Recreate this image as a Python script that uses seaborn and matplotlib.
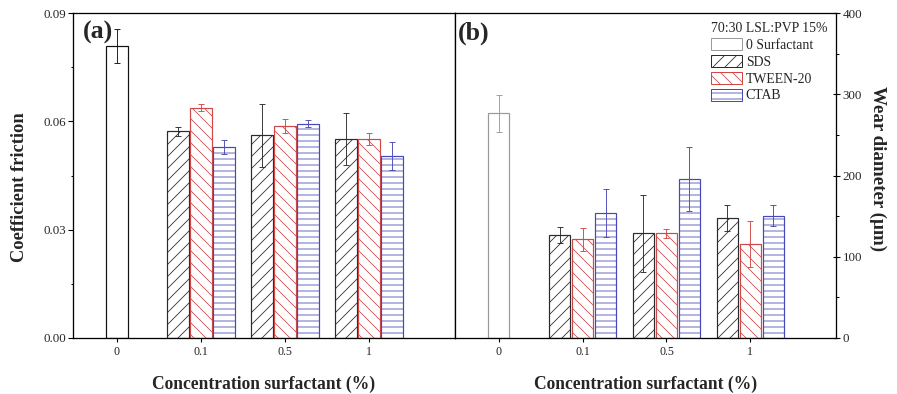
import numpy as np
import pandas as pd
import seaborn as sns
import matplotlib.pyplot as plt
from matplotlib.patches import Patch
from matplotlib.ticker import MultipleLocator, FormatStrFormatter

# categories
conc_labels = ['0', '0.1', '0.5', '1']
surfactants = ['SDS', 'TWEEN-20', 'CTAB']

# (a) coefficient of friction (mean, error)
cof_base, cof_base_err = 0.0809, 0.0048
cof_sds = [0.0572, 0.0561, 0.0551]
cof_sds_err = [0.0012, 0.0087, 0.0072]
cof_tween = [0.0638, 0.0587, 0.0551]
cof_tween_err = [0.0010, 0.0019, 0.0016]
cof_ctab = [0.0529, 0.0593, 0.0504]
cof_ctab_err = [0.0020, 0.0010, 0.0040]

# (b) wear diameter in um (mean, error)
wsd_base, wsd_base_err = 276.5, 23
wsd_sds = [126.8, 128.8, 148.0]
wsd_sds_err = [10, 47.6, 15.8]
wsd_tween = [121.5, 128.8, 115.7]
wsd_tween_err = [14, 5.3, 27.7]
wsd_ctab = [153.8, 195.7, 150.5]
wsd_ctab_err = [29, 39, 13]

cof_ticks = [0.00, 0.03, 0.06, 0.09]
wsd_ticks = [0, 100, 200, 300, 400]

surf_colors = ['#2b2b2b', '#d04848', '#4848b8']
surf_hatches = ['//', '\\\\', '--']
bar_w = 0.257
slot_w = 0.274

sns.set_style('ticks')
plt.rcParams['font.family'] = ['Liberation Serif', 'DejaVu Serif']
plt.rcParams['hatch.linewidth'] = 0.8
plt.rcParams['axes.linewidth'] = 1.3


def panel(ax, base, base_err, vals, errs, base_edge):
    df0 = pd.DataFrame({'conc': [conc_labels[0]], 'value': [base]})
    df = pd.DataFrame({
        'conc': conc_labels[1:] * len(surfactants),
        'surf': np.repeat(surfactants, len(conc_labels) - 1),
        'value': np.concatenate(vals),
    })
    sns.barplot(data=df0, x='conc', y='value', order=conc_labels, color='white',
                width=bar_w, errorbar=None, linewidth=1.2, ax=ax)
    sns.barplot(data=df, x='conc', y='value', hue='surf', order=conc_labels,
                hue_order=surfactants, palette={s: 'white' for s in surfactants},
                width=slot_w * len(surfactants), gap=0.06, errorbar=None,
                linewidth=1.2, legend=False, ax=ax)

    all_errs = [[base_err]] + errs
    for cont, col, hatch, err in zip(ax.containers, [base_edge] + surf_colors,
                                     [''] + surf_hatches, all_errs):
        xs, ys = [], []
        for p in sorted(cont.patches, key=lambda p: p.get_x()):
            p.set_facecolor('white')
            p.set_edgecolor(col)
            p.set_hatch(hatch)
            xs.append(p.get_x() + p.get_width() / 2)
            ys.append(p.get_height())
        ax.errorbar(xs, ys, yerr=err, fmt='none', ecolor=col, elinewidth=0.9,
                    capsize=3, capthick=0.9)

    ax.set_xlim(-0.52, 4.02)
    ax.set_xlabel('Concentration surfactant (%)', fontsize=17.5, fontweight='bold',
                  labelpad=18)
    ax.tick_params(axis='x', direction='out', length=4, width=1.1, labelsize=12,
                   color='black', pad=4)
    for s in ax.spines.values():
        s.set_color('black')


fig = plt.figure(figsize=(897 / 72, 394 / 72), dpi=72)
ax1 = fig.add_axes([73 / 897, 1 - 338 / 394, 382 / 897, 325 / 394])
ax2 = fig.add_axes([455 / 897, 1 - 338 / 394, 381 / 897, 325 / 394])

panel(ax1, cof_base, cof_base_err, [cof_sds, cof_tween, cof_ctab],
      [cof_sds_err, cof_tween_err, cof_ctab_err], '#111111')
panel(ax2, wsd_base, wsd_base_err, [wsd_sds, wsd_tween, wsd_ctab],
      [wsd_sds_err, wsd_tween_err, wsd_ctab_err], '#9a9a9a')

# left axis
ax1.set_ylim(cof_ticks[0], cof_ticks[-1])
ax1.set_yticks(cof_ticks)
ax1.yaxis.set_major_formatter(FormatStrFormatter('%.2f'))
ax1.yaxis.set_minor_locator(MultipleLocator(0.015))
ax1.tick_params(axis='y', which='major', direction='out', length=5, width=1.1,
                labelsize=13, color='black', pad=2)
ax1.tick_params(axis='y', which='minor', direction='out', length=2.5, width=1.0, color='black')
ax1.set_ylabel('Coefficient friction', fontsize=18.5, fontweight='bold', labelpad=15)
ax1.yaxis.label.set_y(0.463)
ax1.text(0.026, 0.975, '(a)', transform=ax1.transAxes, fontsize=26, fontweight='bold',
         ha='left', va='top')

# right axis
ax2.set_ylim(wsd_ticks[0], wsd_ticks[-1])
ax2.set_yticks(wsd_ticks)
ax2.yaxis.set_minor_locator(MultipleLocator(50))
ax2.yaxis.tick_right()
ax2.yaxis.set_label_position('right')
ax2.tick_params(axis='y', which='major', direction='inout', length=7, width=1.1,
                labelsize=13, color='black', pad=3)
ax2.tick_params(axis='y', which='minor', direction='out', length=3, width=1.0, color='black')
ax2.set_ylabel('Wear diameter (\u03bcm)', fontsize=19, fontweight='bold', rotation=270,
               labelpad=24)
ax2.yaxis.label.set_y(0.52)
ax2.text(0.008, 0.975, '(b)', transform=ax2.transAxes, fontsize=26, fontweight='bold',
         ha='left', va='top')

handles = [Patch(facecolor='white', edgecolor='#9a9a9a', label='0 Surfactant')]
handles += [Patch(facecolor='white', edgecolor=c, hatch=h, label=s)
            for s, c, h in zip(surfactants, surf_colors, surf_hatches)]
leg = ax2.legend(handles=handles, title='70:30 LSL:PVP 15%', loc='upper right',
                 bbox_to_anchor=(0.979, 0.972), frameon=False, fontsize=13.7,
                 title_fontsize=13.7, handlelength=2.2, handleheight=1.0,
                 handletextpad=0.3, labelspacing=0.22, borderpad=0, borderaxespad=0,
                 alignment='left')

fig.savefig('out.png', dpi=72)
